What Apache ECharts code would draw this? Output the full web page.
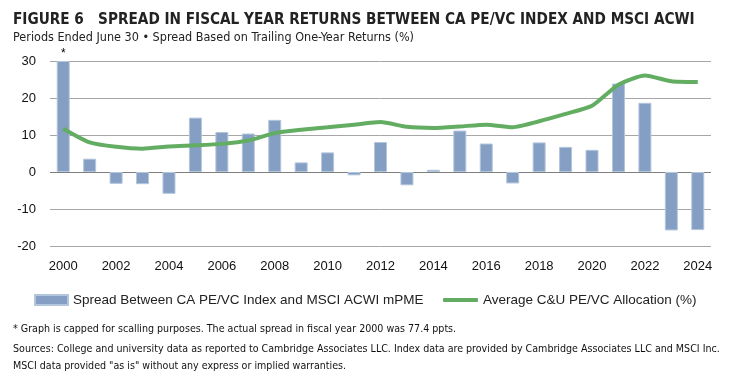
<!DOCTYPE html>
<html lang="en">
  <head>
    <meta charset="UTF-8" />
    <title>Figure 6</title>
    <script src="https://cdn.jsdelivr.net/npm/echarts@6/dist/echarts.min.js"></script>
    <style>
      html, body { margin: 0; padding: 0; background: #fff; }
      #chart { width: 743px; height: 375px; }
    </style>
  </head>
  <body>
    <div id="chart"></div>
    <script>
      // fiscal years (June 30)
      var years = [
        "2000", "2001", "2002", "2003", "2004", "2005", "2006", "2007", "2008",
        "2009", "2010", "2011", "2012", "2013", "2014", "2015", "2016", "2017",
        "2018", "2019", "2020", "2021", "2022", "2023", "2024"
      ];
      // spread CA PE/VC vs MSCI ACWI mPME (2000 capped at 30)
      var spread = [
        30, 3.6, -3.2, -3.3, -5.9, 14.7, 10.8, 10.4, 14.1, 2.6, 5.3, -0.9, 8.1,
        -3.6, 0.6, 11.2, 7.7, -3.1, 8.0, 6.8, 6.0, 23.9, 18.7, -15.8, -15.7
      ];
      // average C&U PE/VC allocation (%)
      var allocation = [
        11.7, 8.0, 6.8, 6.3, 6.9, 7.2, 7.6, 8.5, 10.5, 11.4, 12.1, 12.8, 13.5,
        12.2, 11.9, 12.3, 12.8, 12.1, 13.7, 15.7, 17.9, 23.6, 26.1, 24.5, 24.3
      ];
      var yTicks = { min: -20, max: 30, step: 10 };

      var font = "'Liberation Sans', Arial, sans-serif";
      var narrow = "'DejaVu Sans Condensed', 'Liberation Sans', sans-serif";
      var barName = "Spread Between CA PE/VC Index and MSCI ACWI mPME";
      var lineName = "Average C&U PE/VC Allocation (%)";

      var chart = echarts.init(document.getElementById("chart"));

      var barData = spread.map(function (v, i) {
        if (i === 0) {
          return {
            value: v,
            label: { show: true, position: "top", formatter: "*", distance: 1, fontSize: 12, color: "#000" }
          };
        }
        return v;
      });

      chart.setOption({
        animation: false,
        textStyle: { fontFamily: font },
        title: [
          {
            text: "FIGURE 6   SPREAD IN FISCAL YEAR RETURNS BETWEEN CA PE/VC INDEX AND MSCI ACWI",
            left: 8, top: 8,
            textStyle: { fontFamily: narrow, fontSize: 15.2, fontWeight: "bold", color: "#222" }
          },
          {
            text: "Periods Ended June 30 \u2022 Spread Based on Trailing One-Year Returns (%)",
            left: 8, top: 26,
            textStyle: { fontFamily: narrow, fontSize: 12.5, fontWeight: "normal", color: "#222" }
          },
          {
            text: "* Graph is capped for scalling purposes. The actual spread in fiscal year 2000 was 77.4 ppts.",
            left: 8, top: 319,
            textStyle: { fontFamily: narrow, fontSize: 10.6, fontWeight: "normal", color: "#111" }
          },
          {
            text: "Sources: College and university data as reported to Cambridge Associates LLC. Index data are provided by Cambridge Associates LLC and MSCI Inc.\nMSCI data provided \"as is\" without any express or implied warranties.",
            left: 8, top: 336,
            textStyle: { fontFamily: narrow, fontSize: 10.6, fontWeight: "normal", color: "#111", lineHeight: 17 }
          }
        ],
        legend: [
          {
            left: 34, top: 293, padding: 0,
            itemWidth: 33, itemHeight: 10,
            textStyle: { fontFamily: font, fontSize: 13.5, color: "#222" },
            data: [{ name: barName, icon: "rect" }]
          },
          {
            left: 443, top: 293, padding: 0,
            itemWidth: 35, itemHeight: 4,
            textStyle: { fontFamily: font, fontSize: 13.5, color: "#222" },
            data: [{ name: lineName, icon: "roundRect" }]
          }
        ],
        grid: { left: 50, right: 32, top: 61, bottom: 129 },
        xAxis: {
          type: "category",
          data: years,
          axisLine: { show: false, onZero: false },
          axisTick: { show: false },
          axisLabel: { interval: 1, fontSize: 13, color: "#111", margin: 14 }
        },
        yAxis: {
          type: "value",
          min: yTicks.min, max: yTicks.max, interval: yTicks.step,
          axisLine: { show: false },
          axisTick: { show: false },
          axisLabel: { fontSize: 13, color: "#111", margin: 14 },
          splitLine: {
            lineStyle: { color: ["#a6a6a6", "#a6a6a6", "#7f7f7f", "#a6a6a6", "#a6a6a6", "#a6a6a6"], width: 1 }
          }
        },
        series: [
          {
            name: barName,
            type: "bar",
            data: barData,
            barWidth: 13,
            itemStyle: { color: "#849fc3", borderColor: "#b4c6dc", borderWidth: 1 }
          },
          {
            name: lineName,
            type: "line",
            data: allocation,
            smooth: 0.2,
            symbol: "none",
            lineStyle: { color: "#62ad62", width: 4 },
            itemStyle: { color: "#62ad62" },
            z: 3
          }
        ]
      });
    </script>
  </body>
</html>
